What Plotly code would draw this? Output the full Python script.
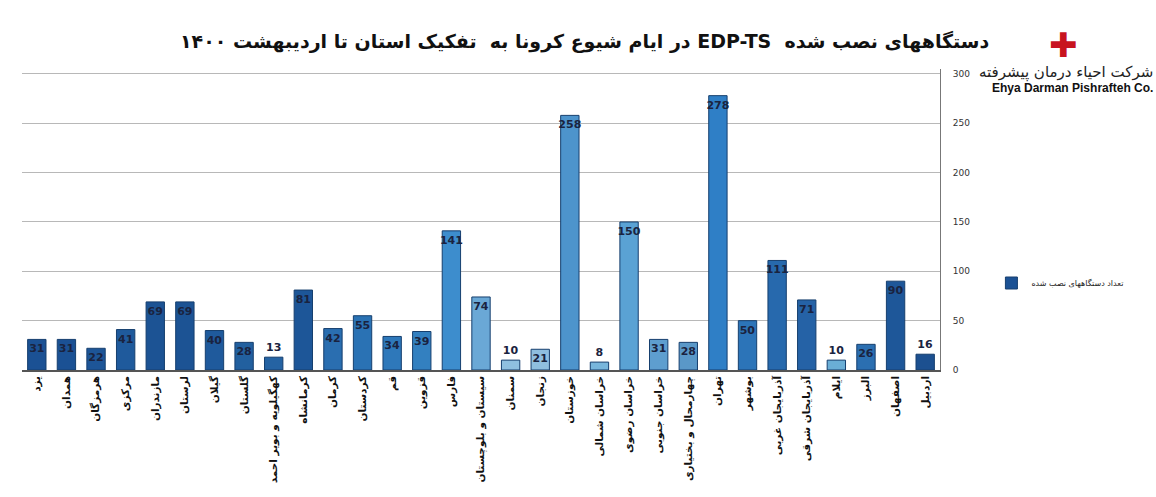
import plotly.graph_objects as go

provinces = [
    "یزد", "همدان", "هرمزگان", "مرکزی", "مازندران", "لرستان", "گیلان", "گلستان",
    "کهگیلویه و بویر احمد", "کرمانشاه", "کرمان", "کردستان", "قم", "قزوین", "فارس",
    "سیستان و بلوچستان", "سمنان", "زنجان", "خوزستان", "خراسان شمالی", "خراسان رضوی",
    "خراسان جنوبی", "چهارمحال و بختیاری", "تهران", "بوشهر", "آذربایجان غربی",
    "آذربایجان شرقی", "ایلام", "البرز", "اصفهان", "اردبیل",
]
devices = [31, 31, 22, 41, 69, 69, 40, 28, 13, 81, 42, 55, 34, 39, 141,
           74, 10, 21, 258, 8, 150, 31, 28, 278, 50, 111, 71, 10, 26, 90, 16]
y_ticks = [0, 50, 100, 150, 200, 250, 300]

title_text = "دستگاههای نصب شده  EDP-TS در ایام شیوع کرونا به  تفکیک استان تا اردیبهشت ۱۴۰۰"
series_name = "تعداد دستگاههای نصب شده"
company_fa = "شرکت احیاء درمان پیشرفته"
company_en = "Ehya Darman Pishrafteh Co."

RLE, PDF = "\u202B", "\u202C"

# style: shade per bar (dark at the ends, lighter toward the middle)
bar_colors = [
    "#1b5194", "#1b5194", "#1d5597", "#1f5a9c", "#1c5394", "#1c5394", "#1f5a9c", "#22609f",
    "#2563a3", "#1d5698", "#2a6eb0", "#2a72b4", "#2e78ba", "#3380c0", "#3d8dcd",
    "#6aa8d6", "#8fc0e0", "#8fbedf", "#4d94cc", "#78b6dc", "#5aa2d4",
    "#5e9ecf", "#5a98c8", "#2f7fc6", "#2c74b8", "#2769ad", "#2562a6", "#6aaed6",
    "#2b6fb1", "#1e5799", "#1c5090",
]

FONT = "DejaVu Sans"

fig = go.Figure()
fig.add_trace(go.Bar(
    x=provinces,
    y=devices,
    name=series_name,
    text=[str(v) for v in devices],
    textposition="auto",
    insidetextanchor="end",
    textangle=0,
    constraintext="none",
    cliponaxis=False,
    insidetextfont=dict(family=FONT, size=11, color="#1a2340", weight="bold"),
    outsidetextfont=dict(family=FONT, size=11, color="#1a2340", weight="bold"),
    marker=dict(color=bar_colors, line=dict(color="#163f6e", width=1)),
    showlegend=True,
))

fig.update_layout(
    width=1156, height=497,
    margin=dict(l=22, r=216, t=69, b=127, autoexpand=False),
    paper_bgcolor="white",
    plot_bgcolor="white",
    bargap=0.38,
    font=dict(family=FONT, color="#222"),
    xaxis=dict(
        type="category",
        tickangle=-90,
        automargin=False,
        tickfont=dict(family=FONT, size=10.5, color="#111", weight="bold"),
        showline=True, linecolor="#555", linewidth=1.5,
        ticks="", showgrid=False,
    ),
    yaxis=dict(
        side="right",
        range=[0, 305],
        automargin=False,
        tickvals=y_ticks,
        tickfont=dict(family=FONT, size=9, color="#333"),
        ticklabelstandoff=10,
        showgrid=True, gridcolor="#b8b8b8", gridwidth=1,
        showline=True, linecolor="#777", linewidth=1,
        zeroline=False, ticks="",
    ),
    legend=dict(
        x=1.056, y=0.289, xanchor="left", yanchor="middle",
        font=dict(family=FONT, size=8, color="#222"),
        bgcolor="rgba(0,0,0,0)", itemwidth=30,
    ),
    annotations=[
        dict(text=RLE + title_text + PDF, x=0.613, y=1.09, xref="paper", yref="paper",
             xanchor="center", yanchor="middle", showarrow=False,
             font=dict(family=FONT, size=19, color="#111", weight="bold")),
        dict(text="✚", x=1.134, y=1.08, xref="paper", yref="paper",
             xanchor="center", yanchor="middle", showarrow=False,
             font=dict(family=FONT, size=34, color="#c8141f")),
        dict(text=company_fa, x=1.234, y=0.99, xref="paper", yref="paper",
             xanchor="right", yanchor="middle", showarrow=False,
             font=dict(family=FONT, size=15, color="#222")),
        dict(text=company_en, x=1.234, y=0.937, xref="paper", yref="paper",
             xanchor="right", yanchor="middle", showarrow=False,
             font=dict(family="Liberation Sans", size=12, color="#111", weight="bold")),
    ],
)

fig.write_html("out.html")
